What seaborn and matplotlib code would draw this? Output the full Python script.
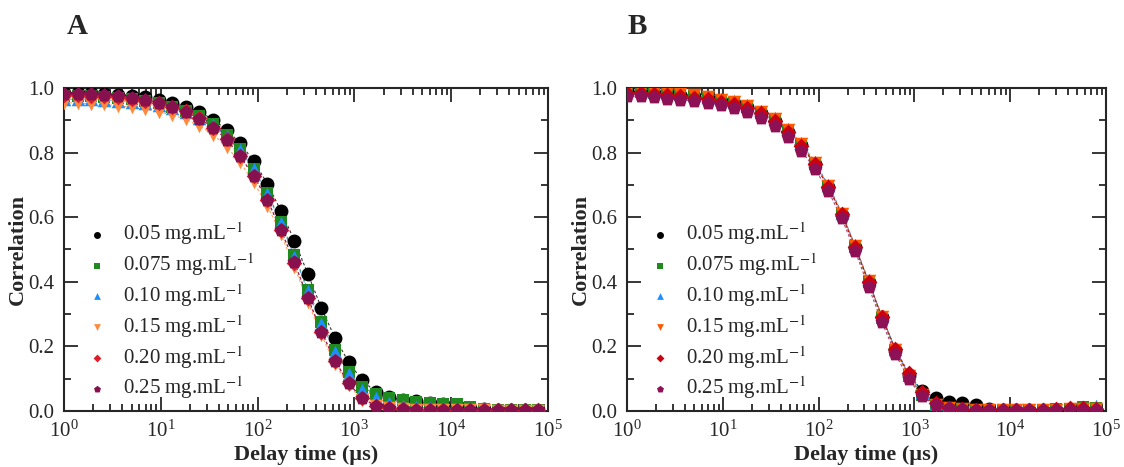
import numpy as np
import pandas as pd
import seaborn as sns
import matplotlib
matplotlib.use("Agg")
import matplotlib.pyplot as plt
from matplotlib.ticker import MultipleLocator, LogLocator, NullFormatter

# delay times (us)
tau = [1.0, 1.38, 1.9, 2.6, 3.6, 5.0, 6.9, 9.5, 13, 18, 25, 35, 48, 66, 91, 126,
       174, 240, 331, 457, 630, 870, 1200, 1660, 2290, 3160, 4370, 6030, 8320,
       11500, 15800, 21900, 30200, 41700, 57500, 79400]

labels = ["0.05 mg.mL$^{-1}$", "0.075 mg.mL$^{-1}$", "0.10 mg.mL$^{-1}$",
          "0.15 mg.mL$^{-1}$", "0.20 mg.mL$^{-1}$", "0.25 mg.mL$^{-1}$"]

# panel A
a_005 = [0.985, 0.985, 0.983, 0.982, 0.979, 0.976, 0.971, 0.963, 0.953, 0.942, 0.926, 0.902,
         0.870, 0.829, 0.774, 0.704, 0.620, 0.527, 0.424, 0.318, 0.226, 0.152, 0.095, 0.059,
         0.044, 0.035, 0.030, 0.026, 0.023, 0.020, 0.010, 0.005, 0.003, 0.002, 0.002, 0.001]
a_0075 = [0.975, 0.975, 0.974, 0.972, 0.969, 0.965, 0.960, 0.952, 0.942, 0.929, 0.912, 0.887,
          0.855, 0.810, 0.750, 0.676, 0.585, 0.483, 0.376, 0.276, 0.190, 0.122, 0.075, 0.052,
          0.040, 0.033, 0.028, 0.025, 0.023, 0.021, 0.012, 0.006, 0.004, 0.003, 0.002, 0.002]
a_010 = [0.965, 0.966, 0.965, 0.963, 0.961, 0.958, 0.953, 0.946, 0.937, 0.925, 0.908, 0.884,
         0.852, 0.808, 0.748, 0.673, 0.581, 0.478, 0.370, 0.270, 0.183, 0.113, 0.065, 0.040,
         0.024, 0.016, 0.012, 0.010, 0.008, 0.006, 0.004, 0.003, 0.002, 0.002, 0.002, 0.001]
a_015 = [0.955, 0.953, 0.951, 0.949, 0.945, 0.940, 0.934, 0.926, 0.917, 0.903, 0.883, 0.855,
         0.818, 0.770, 0.708, 0.636, 0.547, 0.447, 0.338, 0.234, 0.146, 0.080, 0.035, 0.015,
         0.008, 0.005, 0.004, 0.003, 0.003, 0.002, 0.002, 0.002, 0.001, 0.001, 0.001, 0.001]
a_020 = [0.978, 0.977, 0.976, 0.974, 0.971, 0.966, 0.961, 0.953, 0.942, 0.928, 0.906, 0.877,
         0.841, 0.790, 0.728, 0.654, 0.561, 0.459, 0.349, 0.244, 0.155, 0.086, 0.040, 0.016,
         0.008, 0.005, 0.004, 0.003, 0.003, 0.003, 0.003, 0.002, 0.002, 0.002, 0.002, 0.002]
a_025 = [0.982, 0.981, 0.980, 0.978, 0.974, 0.968, 0.962, 0.953, 0.942, 0.927, 0.905, 0.876,
         0.840, 0.788, 0.727, 0.653, 0.560, 0.460, 0.350, 0.246, 0.156, 0.086, 0.040, 0.016,
         0.008, 0.005, 0.004, 0.004, 0.003, 0.003, 0.004, 0.003, 0.003, 0.002, 0.003, 0.002]

# panel B
b_005 = [0.990, 0.988, 0.985, 0.982, 0.978, 0.974, 0.968, 0.961, 0.953, 0.940, 0.923, 0.899,
         0.865, 0.822, 0.764, 0.694, 0.608, 0.508, 0.400, 0.290, 0.190, 0.112, 0.063, 0.040,
         0.028, 0.025, 0.020, 0.005, 0.003, 0.002, 0.002, 0.002, 0.002, 0.002, 0.003, 0.003]
b_0075 = [0.990, 0.988, 0.986, 0.983, 0.979, 0.975, 0.969, 0.962, 0.954, 0.941, 0.924, 0.900,
          0.866, 0.823, 0.765, 0.695, 0.609, 0.508, 0.399, 0.288, 0.188, 0.108, 0.050, 0.020,
          0.010, 0.006, 0.004, 0.003, 0.003, 0.003, 0.003, 0.004, 0.005, 0.007, 0.012, 0.010]
b_010 = [0.995, 0.993, 0.990, 0.987, 0.983, 0.979, 0.973, 0.966, 0.959, 0.947, 0.930, 0.906,
         0.872, 0.829, 0.771, 0.700, 0.614, 0.513, 0.404, 0.293, 0.192, 0.113, 0.058, 0.024,
         0.012, 0.008, 0.005, 0.004, 0.004, 0.004, 0.004, 0.005, 0.006, 0.008, 0.012, 0.015]
b_015 = [0.992, 0.990, 0.988, 0.985, 0.981, 0.977, 0.971, 0.964, 0.956, 0.944, 0.927, 0.903,
         0.869, 0.826, 0.768, 0.697, 0.611, 0.510, 0.401, 0.290, 0.188, 0.108, 0.050, 0.018,
         0.008, 0.005, 0.004, 0.003, 0.003, 0.003, 0.003, 0.004, 0.004, 0.005, 0.006, 0.006]
b_020 = [0.985, 0.983, 0.981, 0.978, 0.975, 0.970, 0.965, 0.958, 0.950, 0.938, 0.921, 0.897,
         0.864, 0.821, 0.764, 0.694, 0.609, 0.508, 0.400, 0.292, 0.193, 0.117, 0.060, 0.025,
         0.010, 0.006, 0.004, 0.003, 0.003, 0.003, 0.003, 0.004, 0.005, 0.008, 0.010, 0.006]
b_025 = [0.976, 0.974, 0.971, 0.967, 0.964, 0.959, 0.954, 0.946, 0.938, 0.925, 0.907, 0.882,
         0.848, 0.806, 0.750, 0.681, 0.596, 0.495, 0.385, 0.275, 0.177, 0.098, 0.045, 0.018,
         0.008, 0.005, 0.003, 0.003, 0.002, 0.002, 0.002, 0.002, 0.002, 0.003, 0.003, 0.003]

markers = ["o", "s", "^", "v", "D", "p"]
sizes = [100, 64, 95, 95, 64, 110]
colors_a = ["black", "#1f8a1f", "#1e8fff", "#ff8a3d", "#dc1e2a", "#86114e"]
colors_b = ["black", "#1f8a1f", "#1e8fff", "#ff5a00", "#cc0010", "#8e1155"]

sns.set_theme(style="ticks")
plt.rcParams["font.family"] = ["Liberation Serif", "DejaVu Serif"]
plt.rcParams["mathtext.fontset"] = "stix"

fig = plt.figure(figsize=(11.24, 4.67), dpi=100)
ax_a = fig.add_axes([0.057, 0.12, 0.4305, 0.6916])
ax_b = fig.add_axes([0.558, 0.12, 0.426, 0.6916])


def draw_panel(ax, series, colors):
    for vals, lab, mk, sz, col in zip(series, labels, markers, sizes, colors):
        df = pd.DataFrame({"tau": tau, "g": vals})
        sns.lineplot(data=df, x="tau", y="g", ax=ax, color=col, lw=0.8,
                     linestyle=(0, (2.5, 2)), alpha=0.8, legend=False)
        sns.scatterplot(data=df, x="tau", y="g", ax=ax, color=col, marker=mk, s=sz,
                        edgecolor=col, linewidth=0, label=lab, zorder=3)
    ax.set_xscale("log")
    ax.set_xlim(1, 1e5)
    ax.set_ylim(0, 1.0)
    ax.yaxis.set_major_locator(MultipleLocator(0.2))
    ax.yaxis.set_minor_locator(MultipleLocator(0.1))
    ax.yaxis.set_major_formatter(lambda v, p: f"{v:.1f}")
    ax.xaxis.set_major_locator(LogLocator(base=10, numticks=10))
    ax.xaxis.set_minor_locator(LogLocator(base=10, subs=np.arange(2, 10), numticks=20))
    ax.xaxis.set_minor_formatter(NullFormatter())
    ax.tick_params(which="both", direction="in", top=True, right=True, width=1.3,
                   labelsize=15, pad=7)
    ax.tick_params(which="major", length=10)
    ax.tick_params(which="minor", length=5)
    for sp in ax.spines.values():
        sp.set_linewidth(1.5)
    ax.set_xlabel("Delay time (\u00b5s)", fontsize=16, fontweight="bold", labelpad=2)
    ax.set_ylabel("Correlation", fontsize=16, fontweight="bold", labelpad=0)
    ax.legend(loc="upper left", bbox_to_anchor=(0.047, 0.59), frameon=False,
              fontsize=15, markerscale=0.5, handlelength=1.0, handletextpad=0.72,
              labelspacing=0.2, borderpad=0, borderaxespad=0)


draw_panel(ax_a, [a_005, a_0075, a_010, a_015, a_020, a_025], colors_a)
draw_panel(ax_b, [b_005, b_0075, b_010, b_015, b_020, b_025], colors_b)

fig.text(77 / 1124, 1 - 26 / 467, "A", fontsize=21, fontweight="bold", ha="center", va="center")
fig.text(637 / 1124, 1 - 26 / 467, "B", fontsize=21, fontweight="bold", ha="center", va="center")

fig.savefig("out.png", dpi=100)
